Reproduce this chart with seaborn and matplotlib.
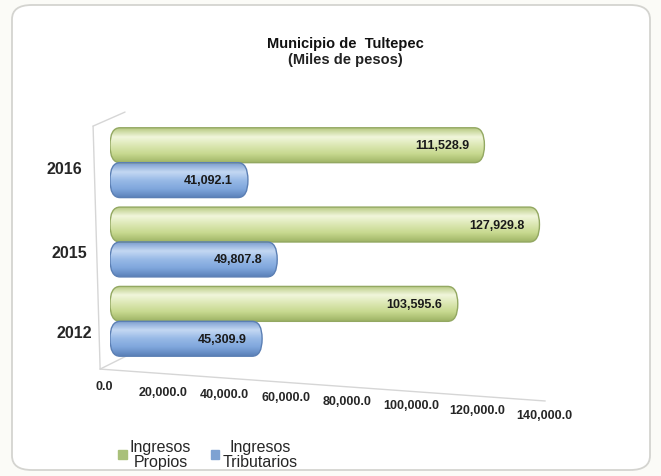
import numpy as np
import matplotlib
matplotlib.use("Agg")
import matplotlib.pyplot as plt
import pandas as pd
import seaborn as sns
from matplotlib.patches import FancyBboxPatch, Patch
from matplotlib.colors import LinearSegmentedColormap
from matplotlib.transforms import ScaledTranslation
from matplotlib.lines import Line2D

# datos (miles de pesos)
years = ["2016", "2015", "2012"]
propios = [111528.9, 127929.8, 103595.6]
tributarios = [41092.1, 49807.8, 45309.9]
series_names = ["Ingresos Propios", "Ingresos Tributarios"]
legend_labels = ["Ingresos\nPropios", "Ingresos\nTributarios"]
x_ticks = [0, 20000, 40000, 60000, 80000, 100000, 120000, 140000]

df = pd.DataFrame({
    "year": years * 2,
    "valor": propios + tributarios,
    "serie": [series_names[0]] * 3 + [series_names[1]] * 3,
})

sns.set_style("white")
plt.rcParams["font.family"] = ["Liberation Sans", "DejaVu Sans"]

fig = plt.figure(figsize=(6.61, 4.77), dpi=100)
fig.patch.set_facecolor("#fbfbf7")
frame = FancyBboxPatch((12 / 661, 6 / 477), 638 / 661, 465 / 477,
                       boxstyle="round,pad=0,rounding_size=0.03",
                       transform=fig.transFigure, facecolor="white",
                       edgecolor="#d4d4d0", linewidth=1.3, zorder=-10)
fig.patches.append(frame)

ax = fig.add_axes([110 / 661, 1 - 362 / 477, 470 / 661, 238 / 477])
ax.set_facecolor("none")

palette = {series_names[0]: "#cfdf9c", series_names[1]: "#8db2e2"}
sns.barplot(data=df, y="year", x="valor", hue="serie", order=years,
            hue_order=series_names, palette=palette, orient="h",
            width=0.88, ax=ax, errorbar=None)

ax.set_xlim(0, 140000)
ax.set_ylim(2.5, -0.5)

# degradado tipo cilindro
grads = [
    LinearSegmentedColormap.from_list("g", ["#b9cb84", "#f1f6dc", "#dbe7b2", "#c6d88e", "#9fb466"]),
    LinearSegmentedColormap.from_list("b", ["#7d9fd0", "#c4d8f3", "#97b9e6", "#7fa6dc", "#5a80b8"]),
]
edges = ["#93a862", "#5b7fb4"]
grad = np.linspace(0, 1, 64).reshape(-1, 1)

px_x = 140000 / 470
for k, cont in enumerate(ax.containers):
    for rect in cont:
        x0, y0, w, h = rect.get_x(), rect.get_y(), rect.get_width(), rect.get_height()
        rect.set_visible(False)
        rx = 10 * px_x
        patch = FancyBboxPatch((x0, y0), w, h,
                               boxstyle=f"round,pad=0,rounding_size={rx}",
                               mutation_aspect=(h / 2) / rx,
                               facecolor="none", edgecolor=edges[k],
                               linewidth=1.0, zorder=3)
        ax.add_patch(patch)
        im = ax.imshow(grad, cmap=grads[k], extent=(x0, x0 + w, y0 + h, y0),
                       aspect="auto", zorder=2, interpolation="bilinear")
        im.set_clip_path(patch)
        ax.annotate(f"{w:,.1f}", xy=(x0 + w, y0 + h / 2), xytext=(-11, 0),
                    textcoords="offset points", ha="right", va="center",
                    fontsize=9, fontweight="bold", color="#1a1a1a", zorder=4)

ax.set_xlim(0, 140000)
ax.set_ylim(2.5, -0.5)
ax.set_xlabel("")
ax.set_ylabel("")
ax.get_legend().remove()

for s in ax.spines.values():
    s.set_visible(False)

ax.set_xticks(x_ticks)
ax.set_xticklabels([f"{v:,.1f}" for v in x_ticks], fontsize=9, fontweight="bold")
ax.tick_params(axis="x", length=0, pad=3)
ax.tick_params(axis="y", length=0, pad=0)
for lab in ax.get_yticklabels():
    lab.set_fontsize(11.5)
    lab.set_fontweight("bold")

# perspectiva de las etiquetas
x_dx = [-6, -14, -20, -25, -32, -34, -36, -36]
x_dy = [15, 21, 23, 26, 30, 34, 39, 44]
for lab, dx, dy in zip(ax.get_xticklabels(), x_dx, x_dy):
    lab.set_transform(lab.get_transform() + ScaledTranslation(dx / 100, -dy / 100, fig.dpi_scale_trans))
y_dx = [-28, -23, -18]
y_dy = [4, 9, 10]
for lab, dx, dy in zip(ax.get_yticklabels(), y_dx, y_dy):
    lab.set_transform(lab.get_transform() + ScaledTranslation(dx / 100, -dy / 100, fig.dpi_scale_trans))

# lineas de la caja 3d
wall = "#d6d6d6"
for xs, ys in [([-0.036, -0.021], [0.987, -0.034]),
               ([-0.036, 0.032], [0.987, 1.046]),
               ([-0.021, 0.926], [-0.034, -0.168]),
               ([-0.021, 0.043], [-0.034, 0.029])]:
    ax.add_line(Line2D(xs, ys, transform=ax.transAxes, color=wall, lw=1.0, clip_on=False, zorder=1))

fig.text(345 / 661, 1 - 44 / 477, "Municipio de  Tultepec", ha="center", va="center",
         fontsize=10.5, fontweight="bold", color="#111111")
fig.text(345 / 661, 1 - 60 / 477, "(Miles de pesos)", ha="center", va="center",
         fontsize=10.5, fontweight="bold", color="#222222")

handles = [Patch(facecolor="#a9c07a", edgecolor="#a9c07a"),
           Patch(facecolor="#7ea2d2", edgecolor="#7ea2d2")]
leg = fig.legend(handles, legend_labels, loc="upper left",
                 bbox_to_anchor=(110 / 661, 1 - 432 / 477), ncol=2, frameon=False,
                 fontsize=11.5, handlelength=0.55, handleheight=0.55, handletextpad=0.2,
                 columnspacing=1.2, labelspacing=0.2, borderpad=0)
for t in leg.get_texts():
    t.set_multialignment("center")
    t.set_linespacing(1.0)

fig.savefig("out.png", dpi=100, facecolor=fig.get_facecolor())
